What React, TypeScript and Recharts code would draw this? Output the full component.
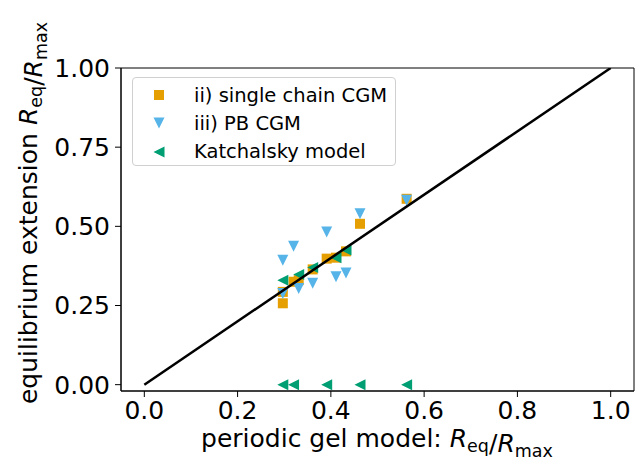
import React from 'react';
import { ScatterChart, Scatter, XAxis, YAxis, Legend, ReferenceArea } from 'recharts';

// gel model extension (shared x for all series)
const gelX = [0.297, 0.297, 0.32, 0.331, 0.361, 0.391, 0.411, 0.4325, 0.4625, 0.5625];
const singleChainY = [0.293, 0.257, 0.325, 0.33, 0.364, 0.398, 0.401, 0.421, 0.508, 0.587];
const pbY = [0.393, 0.288, 0.437, 0.304, 0.32, 0.482, 0.341, 0.353, 0.54, 0.582];
const katchalskyY = [0.33, 0, 0, 0.348, 0.37, 0, 0.401, 0.425, 0, 0];

const diagonalX = [0, 1];
const diagonalY = [0, 1];

const xTicks = [0, 0.2, 0.4, 0.6, 0.8, 1.0];
const yTicks = [0, 0.25, 0.5, 0.75, 1.0];

const toPoints = (xs: number[], ys: number[]) => xs.map((x, i) => ({ x, y: ys[i] }));

const FONT = '"DejaVu Sans", sans-serif';
const ORANGE = '#E69F00';
const BLUE = '#56B4E9';
const GREEN = '#009E73';
const H = 5.5;

const Square = ({ cx, cy, color }: any) => (
  <rect x={cx - 5} y={cy - 5} width={10} height={10} fill={color} />
);
const TriDown = ({ cx, cy, color }: any) => (
  <polygon points={`${cx - H},${cy - H} ${cx + H},${cy - H} ${cx},${cy + H}`} fill={color} />
);
const TriLeft = ({ cx, cy, color }: any) => (
  <polygon points={`${cx - H},${cy} ${cx + H},${cy - H} ${cx + H},${cy + H}`} fill={color} />
);

const series = [
  { name: 'ii) single chain CGM', ys: singleChainY, color: ORANGE, Marker: Square },
  { name: 'iii) PB CGM', ys: pbY, color: BLUE, Marker: TriDown },
  { name: 'Katchalsky model', ys: katchalskyY, color: GREEN, Marker: TriLeft },
];

const MathR = ({ sub }: { sub: string }) => (
  <>
    <tspan fontStyle="italic">R</tspan>
    <tspan fontSize={17.5} dy={5}>{sub}</tspan>
    <tspan dy={-5}>{''}</tspan>
  </>
);

const YTitle = () => (
  <text
    transform="translate(37,213) rotate(-90)"
    textAnchor="middle"
    fontSize={25}
    fontFamily={FONT}
    fill="#000"
  >
    equilibrium extension <MathR sub="eq" />/<MathR sub="max" />
  </text>
);

const XTitle = () => (
  <text x={377} y={447} textAnchor="middle" fontSize={25} fontFamily={FONT} fill="#000">
    periodic gel model: <MathR sub="eq" />/<MathR sub="max" />
  </text>
);

const renderLegend = () => (
  <div
    style={{
      width: 264,
      height: 89,
      border: '1px solid #d0d0d0',
      borderRadius: 4,
      background: 'rgba(255,255,255,0.8)',
      fontFamily: FONT,
      fontSize: 19.5,
      boxSizing: 'border-box',
      paddingTop: 3,
    }}
  >
    {series.map((s) => (
      <div key={s.name} style={{ display: 'flex', alignItems: 'center', height: 28.3 }}>
        <svg width={61} height={20} style={{ flex: 'none' }}>
          <s.Marker cx={26} cy={10} color={s.color} />
        </svg>
        <span style={{ color: '#000', whiteSpace: 'nowrap' }}>{s.name}</span>
      </div>
    ))}
  </div>
);

export default function App() {
  return (
    <div style={{ position: 'absolute', left: 0, top: 0, width: 636, height: 464, background: '#fff' }}>
      <style>{'body{margin:0}'}</style>
      <ScatterChart width={636} height={464} margin={{ top: 68, right: 2, bottom: 0, left: 0 }}>
        <XAxis
          type="number"
          dataKey="x"
          domain={[-0.05, 1.05]}
          ticks={xTicks}
          allowDataOverflow
          tickFormatter={(v: number) => v.toFixed(1)}
          height={73}
          tickSize={6}
          tickMargin={4}
          stroke="#000"
          tick={{ fill: '#000', fontSize: 25, fontFamily: FONT }}
          label={<XTitle />}
        />
        <YAxis
          type="number"
          dataKey="y"
          domain={[-0.02, 1.0]}
          ticks={yTicks}
          allowDataOverflow
          tickFormatter={(v: number) => v.toFixed(2)}
          width={121}
          tickSize={6}
          tickMargin={5}
          stroke="#000"
          tick={{ fill: '#000', fontSize: 25, fontFamily: FONT }}
          label={<YTitle />}
        />
        <ReferenceArea
          x1={-0.05}
          x2={1.05}
          y1={-0.02}
          y2={1.0}
          fill="none"
          stroke="#000"
          strokeWidth={1}
          ifOverflow="visible"
        />
        {series.map((s) => (
          <Scatter
            key={s.name}
            name={s.name}
            data={toPoints(gelX, s.ys)}
            isAnimationActive={false}
            shape={(p: any) => <s.Marker cx={p.cx} cy={p.cy} color={s.color} />}
          />
        ))}
        <Scatter
          name="diagonal"
          data={toPoints(diagonalX, diagonalY)}
          isAnimationActive={false}
          line={{ stroke: '#000', strokeWidth: 2.5 }}
          lineType="joint"
          shape={() => <g />}
          legendType="none"
        />
        <Legend
          layout="vertical"
          align="center"
          verticalAlign="middle"
          content={renderLegend}
          wrapperStyle={{ left: 132, top: 77, width: 264, height: 89 }}
        />
      </ScatterChart>
    </div>
  );
}
